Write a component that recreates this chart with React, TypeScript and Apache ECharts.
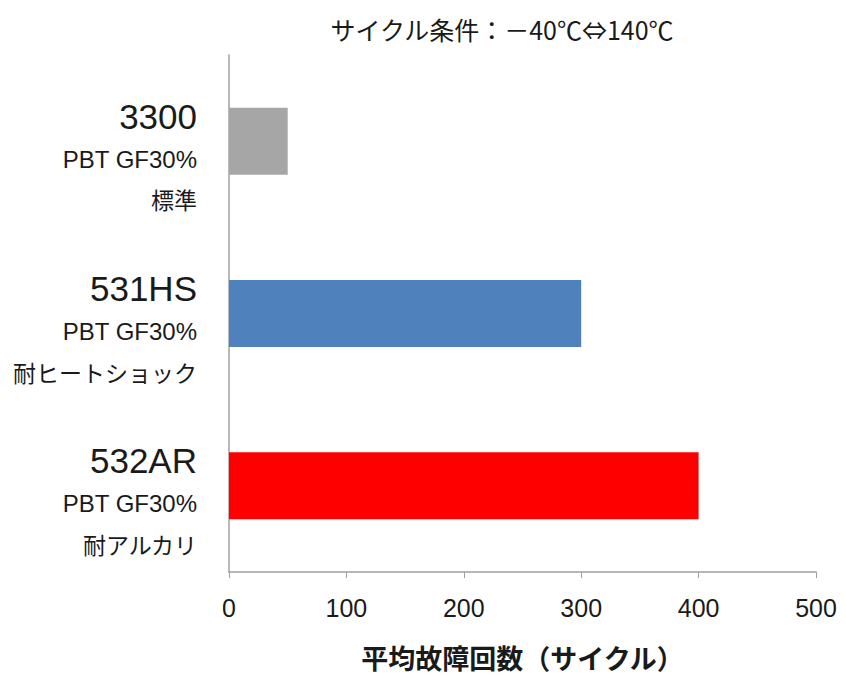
import React, { useEffect, useRef } from "react";
import * as echarts from "echarts";

const grades = ["3300", "531HS", "532AR"];
const materials = ["PBT GF30%", "PBT GF30%", "PBT GF30%"];
const features = ["標準", "耐ヒートショック", "耐アルカリ"];
const cycles = [50, 300, 400];
const barColors = ["#a6a6a6", "#4f81bd", "#ff0000"];
const titleText = "サイクル条件：－40℃⇔140℃";
const xAxisTitle = "平均故障回数（サイクル）";

const JP = "'Noto Sans CJK JP', sans-serif";
const NUM = "'Liberation Sans', 'Noto Sans CJK JP', sans-serif";

export default function App() {
  const ref = useRef<HTMLDivElement>(null);
  useEffect(() => {
    if (!ref.current) return;
    const chart = echarts.init(ref.current, null, { renderer: "svg" });
    chart.setOption({
      animation: false,
      backgroundColor: "#ffffff",
      title: {
        text: titleText,
        left: 497,
        top: 11,
        textAlign: "center",
        textStyle: { fontFamily: JP, fontSize: 25, fontWeight: "normal", color: "#1a1a1a" },
      },
      grid: { left: 229, right: 30, top: 55, bottom: 104, containLabel: false, outerBoundsMode: "none" },
      xAxis: {
        type: "value",
        min: 0,
        max: 500,
        interval: 100,
        name: xAxisTitle,
        nameLocation: "middle",
        nameGap: 72,
        nameTextStyle: { fontFamily: JP, fontSize: 27, fontWeight: "bold", color: "#1a1a1a" },
        axisLine: { show: true, lineStyle: { color: "#a0a0a0", width: 1.5 } },
        axisTick: { show: true, length: 6, lineStyle: { color: "#a0a0a0" } },
        splitLine: { show: false },
        axisLabel: { margin: 23, fontFamily: NUM, fontSize: 25, color: "#1a1a1a" },
      },
      yAxis: {
        type: "category",
        inverse: true,
        data: grades.map((g, i) => `{g|${g}}\n{m|${materials[i]}}\n{f|${features[i]}}`),
        axisLine: { show: true, lineStyle: { color: "#a0a0a0", width: 1.5 } },
        axisTick: { show: false },
        axisLabel: {
          margin: 32,
          align: "right",
          padding: [30, 0, 0, 0],
          rich: {
            g: { fontFamily: NUM, fontSize: 35, lineHeight: 46, color: "#1a1a1a", align: "right" },
            m: { fontFamily: NUM, fontSize: 24, lineHeight: 40, color: "#1a1a1a", align: "right" },
            f: { fontFamily: JP, fontSize: 23, lineHeight: 40, color: "#1a1a1a", align: "right" },
          },
        },
      },
      series: [
        {
          type: "bar",
          barWidth: 67,
          data: cycles.map((v, i) => ({ value: v, itemStyle: { color: barColors[i] } })),
        },
      ],
    });
    return () => chart.dispose();
  }, []);
  return <div ref={ref} style={{ width: 846, height: 676, position: "absolute", left: 0, top: 0 }} />;
}
